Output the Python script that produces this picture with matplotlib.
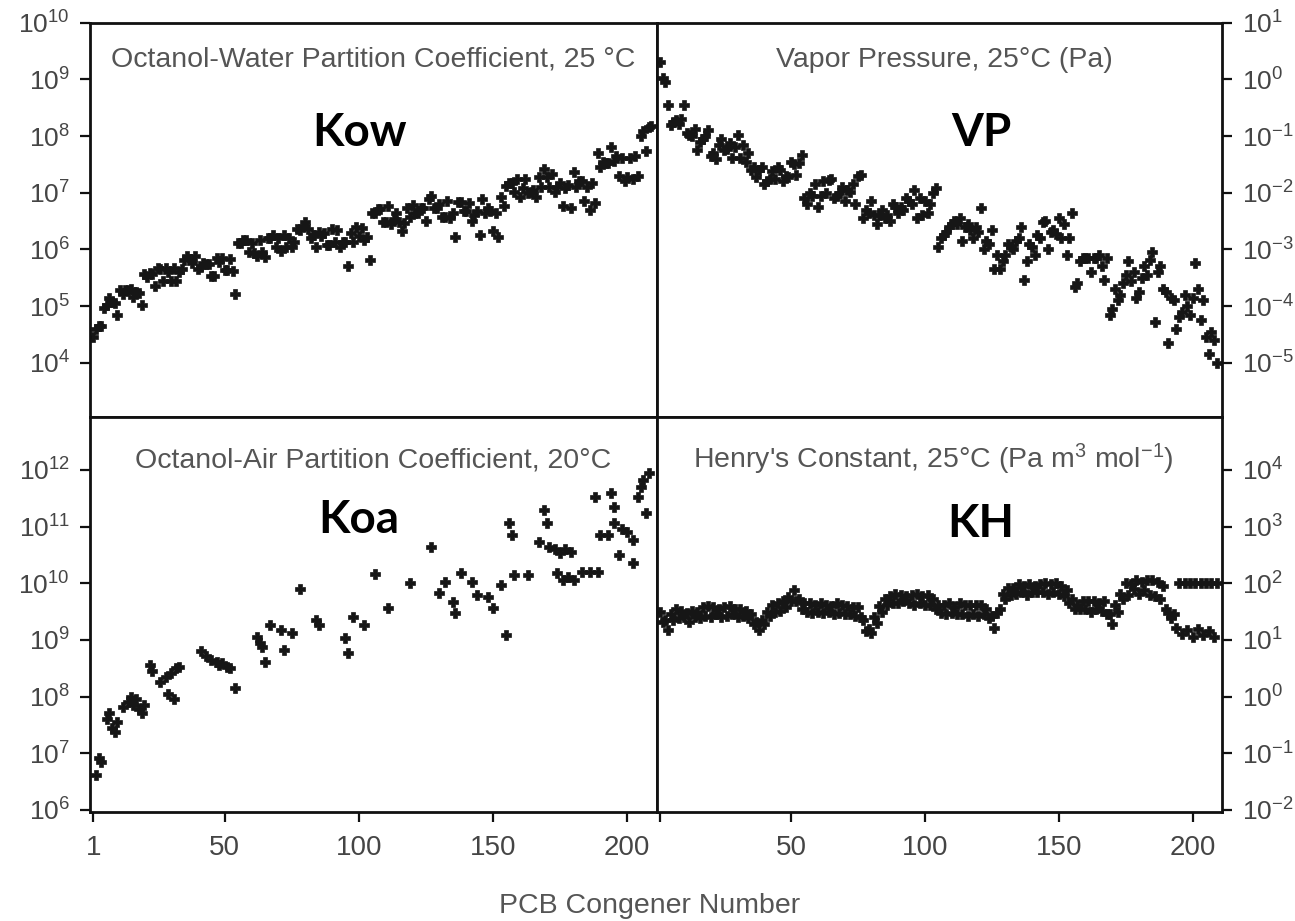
import numpy as np
import matplotlib
matplotlib.use('Agg')
import matplotlib.pyplot as plt
from matplotlib.ticker import FixedLocator, FixedFormatter, NullLocator

plt.rcParams['font.family'] = ['Liberation Sans', 'DejaVu Sans']
plt.rcParams['mathtext.fontset'] = 'custom'
plt.rcParams['mathtext.rm'] = 'Liberation Sans'
plt.rcParams['mathtext.it'] = 'Liberation Sans:italic'
plt.rcParams['mathtext.bf'] = 'Liberation Sans:bold'

# ---------------- data (log10 values per PCB congener 1..209) ----------------
congeners = np.arange(1, 210)

log_kow = [
    4.46, 4.60, 4.65, 4.65, 4.97, 5.02, 5.15, 5.07, 5.06, 4.85,
    5.28, 5.22, 5.28, 5.28, 5.30, 5.16, 5.25, 5.24, 5.02, 5.57,
    5.51, 5.58, 5.57, 5.35, 5.67, 5.66, 5.44, 5.67, 5.60, 5.44,
    5.67, 5.44, 5.60, 5.66, 5.82, 5.88, 5.83, 5.76, 5.89, 5.66,
    5.69, 5.76, 5.75, 5.75, 5.53, 5.53, 5.85, 5.78, 5.85, 5.63,
    5.63, 5.84, 5.62, 5.21, 6.11, 6.11, 6.17, 6.17, 5.95, 6.11,
    5.94, 5.89, 6.17, 5.95, 5.86, 6.20, 6.20, 6.26, 6.04, 6.20,
    5.98, 6.26, 6.04, 6.20, 6.05, 6.13, 6.36, 6.35, 6.42, 6.48,
    6.36, 6.20, 6.26, 6.04, 6.30, 6.23, 6.29, 6.07, 6.07, 6.36,
    6.13, 6.35, 6.04, 6.13, 6.13, 5.71, 6.29, 6.13, 6.39, 6.23,
    6.38, 6.16, 6.22, 5.81, 6.65, 6.64, 6.71, 6.71, 6.48, 6.48,
    6.76, 6.45, 6.54, 6.65, 6.49, 6.33, 6.46, 6.74, 6.58, 6.79,
    6.64, 6.64, 6.74, 6.73, 6.51, 6.89, 6.95, 6.74, 6.73, 6.80,
    6.58, 6.58, 6.86, 6.55, 6.64, 6.22, 6.83, 6.83, 6.67, 6.67,
    6.82, 6.51, 6.60, 6.67, 6.25, 6.89, 6.64, 6.73, 6.67, 6.32,
    6.64, 6.22, 6.92, 6.76, 7.12, 7.18, 7.18, 7.02, 7.24, 6.93,
    7.08, 7.24, 6.99, 7.02, 7.05, 6.93, 7.27, 7.11, 7.42, 7.27,
    7.11, 7.33, 7.02, 7.11, 7.17, 6.76, 7.08, 7.14, 6.73, 7.36,
    7.11, 7.20, 7.20, 6.85, 7.11, 6.69, 7.17, 6.82, 7.71, 7.46,
    7.55, 7.52, 7.52, 7.80, 7.56, 7.65, 7.30, 7.62, 7.20, 7.27,
    7.62, 7.24, 7.65, 7.30, 8.00, 8.09, 7.74, 8.16, 8.18,
]

log_vp = [
    0.31, 0.02, -0.05, -0.45, -0.80, -0.75, -0.72, -0.78, -0.70, -0.45,
    -0.95, -0.98, -1.00, -0.88, -1.25, -1.10, -1.05, -1.00, -0.90, -1.35,
    -1.30, -1.40, -1.15, -1.05, -1.25, -1.22, -1.12, -1.38, -1.20, -0.98,
    -1.38, -1.15, -1.45, -1.30, -1.60, -1.55, -1.72, -1.60, -1.55, -1.85,
    -1.80, -1.75, -1.62, -1.75, -1.55, -1.60, -1.80, -1.70, -1.72, -1.45,
    -1.50, -1.68, -1.48, -1.33, -2.10, -2.20, -2.00, -2.05, -1.85, -2.25,
    -2.05, -1.80, -2.00, -1.78, -1.75, -2.10, -2.05, -2.00, -1.90, -2.15,
    -1.95, -1.98, -1.85, -2.20, -1.70, -1.69, -2.45, -2.30, -2.35, -2.15,
    -2.40, -2.55, -2.40, -2.30, -2.45, -2.40, -2.50, -2.20, -2.25, -2.35,
    -2.25, -2.30, -2.10, -2.15, -2.20, -1.95, -2.45, -2.10, -2.40, -2.15,
    -2.35, -2.20, -2.00, -1.92, -2.95, -2.80, -2.75, -2.70, -2.60, -2.55,
    -2.50, -2.55, -2.45, -2.85, -2.60, -2.55, -2.65, -2.80, -2.60, -2.70,
    -2.27, -3.00, -2.85, -2.90, -2.65, -3.35, -3.10, -3.35, -3.20, -3.10,
    -2.90, -2.95, -3.00, -2.85, -2.80, -2.60, -3.54, -3.20, -2.90, -2.95,
    -3.10, -2.75, -2.80, -2.51, -2.50, -3.00, -2.70, -2.66, -2.72, -2.45,
    -2.80, -2.55, -3.10, -2.80, -2.36, -3.66, -3.60, -3.20, -3.15, -3.15,
    -3.15, -3.40, -3.15, -3.15, -3.10, -3.30, -3.54, -3.15, -4.15, -4.05,
    -3.70, -3.90, -3.80, -3.60, -3.45, -3.20, -3.55, -3.40, -3.86, -3.75,
    -3.50, -3.30, -3.45, -3.19, -3.05, -4.28, -3.40, -3.30, -3.70, -3.75,
    -4.65, -3.85, -3.90, -4.40, -4.20, -4.10, -3.80, -4.00, -4.15, -3.85,
    -3.24, -3.70, -4.25, -3.90, -4.55, -4.85, -4.45, -4.60, -5.00,
]

log_kh = [
    1.50, 1.32, 1.35, 1.18, 1.45, 1.35, 1.55, 1.38, 1.52, 1.40,
    1.48, 1.32, 1.52, 1.40, 1.50, 1.38, 1.58, 1.42, 1.60, 1.40,
    1.58, 1.45, 1.55, 1.40, 1.58, 1.42, 1.60, 1.45, 1.55, 1.40,
    1.55, 1.42, 1.52, 1.38, 1.45, 1.28, 1.32, 1.18, 1.35, 1.28,
    1.50, 1.42, 1.62, 1.50, 1.65, 1.52, 1.68, 1.58, 1.75, 1.68,
    1.88, 1.68, 1.72, 1.55, 1.65, 1.50, 1.65, 1.48, 1.62, 1.50,
    1.65, 1.48, 1.62, 1.50, 1.60, 1.45, 1.65, 1.48, 1.62, 1.45,
    1.60, 1.45, 1.58, 1.42, 1.58, 1.40, 1.35, 1.15, 1.20, 1.12,
    1.40, 1.30, 1.60, 1.50, 1.72, 1.62, 1.78, 1.65, 1.82, 1.65,
    1.80, 1.68, 1.78, 1.65, 1.80, 1.62, 1.82, 1.65, 1.78, 1.62,
    1.80, 1.62, 1.72, 1.55, 1.62, 1.48, 1.62, 1.45, 1.65, 1.48,
    1.58, 1.45, 1.65, 1.45, 1.62, 1.42, 1.62, 1.45, 1.62, 1.42,
    1.62, 1.45, 1.55, 1.38, 1.42, 1.22, 1.48, 1.55, 1.82, 1.72,
    1.92, 1.80, 1.92, 1.82, 1.98, 1.85, 1.95, 1.80, 1.98, 1.85,
    1.95, 1.85, 1.98, 1.85, 2.00, 1.82, 1.98, 1.85, 2.00, 1.82,
    1.95, 1.78, 1.88, 1.65, 1.72, 1.55, 1.62, 1.55, 1.68, 1.55,
    1.68, 1.50, 1.68, 1.55, 1.65, 1.52, 1.68, 1.45, 1.45, 1.28,
    1.62, 1.50, 1.82, 1.72, 2.00, 1.80, 1.98, 1.90, 2.05, 1.82,
    2.02, 1.88, 2.05, 1.80, 2.05, 1.78, 2.02, 1.72, 1.95, 1.55,
    1.48, 1.38, 1.45, 1.22, 2.00, 1.10, 2.00, 1.18, 2.00, 1.05,
    2.00, 1.20, 2.00, 1.08, 2.00, 1.15, 2.00, 1.05, 2.00,
]

koa_congeners = [
    2, 3, 4, 6, 7, 8, 9, 10, 12, 14,
    15, 16, 17, 18, 19, 20, 22, 23, 26, 28,
    29, 30, 31, 32, 33, 41, 43, 45, 47, 48,
    49, 51, 52, 54, 62, 63, 64, 65, 67, 71,
    72, 75, 78, 84, 85, 95, 96, 98, 102, 106,
    111, 119, 127, 130, 132, 135, 136, 138, 142, 144,
    148, 150, 153, 155, 156, 157, 158, 163, 167, 169,
    170, 171, 173, 174, 175, 176, 177, 178, 179, 180,
    183, 186, 188, 189, 190, 193, 194, 195, 195, 197,
    198, 200, 202, 202, 204, 205, 206, 207, 208,
]
log_koa = [
    6.62, 6.92, 6.84, 7.60, 7.72, 7.45, 7.38, 7.55, 7.82, 7.90,
    8.00, 7.85, 7.95, 7.78, 7.72, 7.85, 8.56, 8.45, 8.25, 8.35,
    8.05, 8.42, 7.95, 8.50, 8.52, 8.80, 8.72, 8.65, 8.62, 8.55,
    8.60, 8.52, 8.50, 8.15, 9.05, 8.95, 8.88, 8.61, 9.27, 9.18,
    8.83, 9.12, 9.90, 9.36, 9.27, 9.04, 8.77, 9.40, 9.27, 10.17,
    9.57, 10.00, 10.64, 9.83, 10.02, 9.67, 9.48, 10.18, 10.02, 9.80,
    9.76, 9.57, 9.97, 9.09, 11.06, 10.85, 10.15, 10.15, 10.73, 11.30,
    11.06, 10.64, 10.60, 10.18, 10.53, 10.06, 10.60, 10.12, 10.55, 10.06,
    10.20, 10.20, 11.52, 10.20, 10.85, 10.85, 11.60, 11.35, 11.06, 10.50,
    10.95, 10.90, 10.77, 10.36, 11.52, 11.70, 11.82, 11.24, 11.95,
]

x_ticks = [1, 50, 100, 150, 200]
x_ticklabels_left = ['1', '50', '100', '150', '200']
x_ticklabels_right = ['', '50', '100', '150', '200']
titles = {
    'kow': 'Octanol-Water Partition Coefficient, 25 \u00b0C',
    'vp': 'Vapor Pressure, 25\u00b0C (Pa)',
    'koa': 'Octanol-Air Partition Coefficient, 20\u00b0C',
    'kh': "Henry's Constant, 25\u00b0C (Pa m$^3$ mol$^{-1}$)",
}
big_labels = {'kow': 'Kow', 'vp': 'VP', 'koa': 'Koa', 'kh': 'KH'}
xlabel = 'PCB Congener Number'

# ---------------- layout ----------------
W, H = 1295, 921
fig = plt.figure(figsize=(W / 100, H / 100), dpi=100)


def add_ax(x0, y0, x1, y1):
    return fig.add_axes([x0 / W, 1 - y1 / H, (x1 - x0) / W, (y1 - y0) / H])


XL, XM, XR = 90, 656.7, 1222
YT, YM, YB = 22.7, 416.7, 811.7
ax_kow = add_ax(XL, YT, XM, YM)
ax_vp = add_ax(XM, YT, XR, YM)
ax_koa = add_ax(XL, YM, XM, YB)
ax_kh = add_ax(XM, YM, XR, YB)

TEXT_C = '#555555'
TICK_C = '#454545'
MARK_C = '#161616'
mk = dict(linestyle='none', marker='P', ms=7.4, color=MARK_C,
          mec=MARK_C, mew=0.5)

ax_kow.plot(congeners, 10.0 ** np.array(log_kow), **mk)
ax_vp.plot(congeners, 10.0 ** np.array(log_vp), **mk)
ax_koa.plot(koa_congeners, 10.0 ** np.array(log_koa), **mk)
ax_kh.plot(congeners, 10.0 ** np.array(log_kh), **mk)

specs = [
    (ax_kow, (3.05, 10.0), range(4, 11), 'left', None),
    (ax_vp, (-5.95, 1.0), range(-5, 2), 'right', None),
    (ax_koa, (5.97, 12.94), range(6, 13), 'left', x_ticklabels_left),
    (ax_kh, (-2.03, 4.94), range(-2, 5), 'right', x_ticklabels_right),
]
for ax, (lo, hi), exps, side, xlabels in specs:
    ax.set_yscale('log')
    ax.set_xlim(-0.2, 211.0)
    ax.set_ylim(10.0 ** lo, 10.0 ** hi)
    exps = list(exps)
    ax.yaxis.set_major_locator(FixedLocator([10.0 ** e for e in exps]))
    ax.yaxis.set_major_formatter(FixedFormatter(
        [r'$\mathregular{10^{%d}}$' % e for e in exps]))
    ax.yaxis.set_minor_locator(NullLocator())
    if side == 'right':
        ax.yaxis.tick_right()
    else:
        ax.yaxis.tick_left()
    ax.tick_params(axis='y', which='major', direction='out', length=7.5,
                   width=1.6, color='#111111', labelsize=19,
                   labelcolor=TICK_C, pad=7)
    if xlabels is not None:
        ax.xaxis.set_major_locator(FixedLocator(x_ticks))
        ax.set_xticklabels(xlabels)
        ax.tick_params(axis='x', which='major', direction='out', length=7.5,
                       width=1.6, color='#111111', labelsize=20,
                       labelcolor=TICK_C, pad=9)
    else:
        ax.xaxis.set_major_locator(NullLocator())
    ax.xaxis.set_minor_locator(NullLocator())
    for sp in ax.spines.values():
        sp.set_linewidth(2.0)
        sp.set_color('#111111')
    ax.set_facecolor('white')


def ftext(px, py, s, **kw):
    fig.text(px / W, 1 - py / H, s, ha='center', va='center', **kw)


ftext(373, 60, titles['kow'], fontsize=20.5, color=TEXT_C)
ftext(944, 60, titles['vp'], fontsize=20.5, color=TEXT_C)
ftext(373, 460, titles['koa'], fontsize=20.5, color=TEXT_C)
ftext(933, 459, titles['kh'], fontsize=20.5, color=TEXT_C)

big = dict(fontsize=33, fontweight='bold', color='black', family=['Lato', 'DejaVu Sans'])
ftext(360, 133, big_labels['kow'], **big)
ftext(981, 133, big_labels['vp'], **big)
ftext(359, 520, big_labels['koa'], **big)
ftext(981, 524, big_labels['kh'], **big)

ftext(650, 906, xlabel, fontsize=20.5, color=TEXT_C)

fig.savefig('out.png', dpi=100, facecolor='white')
